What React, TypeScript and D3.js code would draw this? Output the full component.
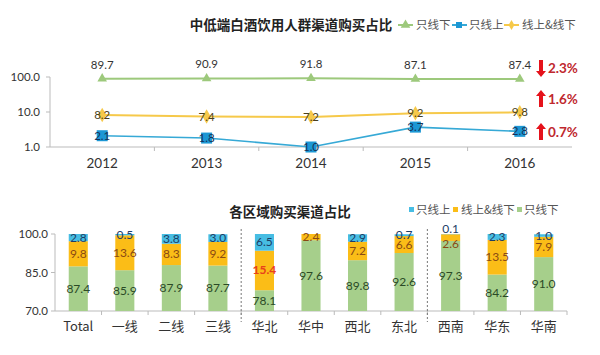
import React from "react";
import * as d3 from "d3";

const years = ["2012", "2013", "2014", "2015", "2016"];
const offlineOnly = [89.7, 90.9, 91.8, 87.1, 87.4];
const onlineOnly = [2.1, 1.8, 1.0, 3.7, 2.8];
const both = [8.2, 7.4, 7.2, 9.2, 9.8];
const topTicks = [1, 10, 100];
const changes = [
  { label: "2.3%", dir: "down", ref: 87.4 },
  { label: "1.6%", dir: "up", ref: 9.8 },
  { label: "0.7%", dir: "up", ref: 2.8 },
];

const regions = ["Total", "一线", "二线", "三线", "华北", "华中", "西北", "东北", "西南", "华东", "华南"];
const regOffline = [87.4, 85.9, 87.9, 87.7, 78.1, 97.6, 89.8, 92.6, 97.3, 84.2, 91.0];
const regBoth = [9.8, 13.6, 8.3, 9.2, 15.4, 2.4, 7.2, 6.6, 2.6, 13.5, 7.9];
const regOnline = [2.8, 0.5, 3.8, 3.0, 6.5, 0, 2.9, 0.7, 0.1, 2.3, 1.0];
const bottomTicks = [70, 85, 100];
const separatorsAfter = ["三线", "东北"];
const highlight = "华北";

const FONT = "'Noto Sans CJK SC', 'Noto Sans', sans-serif";
const NUM = "Lato, 'Noto Sans', sans-serif";
const C_GREEN = "#9dc97c";
const C_BLUE = "#36a9d6";
const C_YELLOW = "#f6c94a";
const B_GREEN = "#a6cf8b";
const B_YELLOW = "#fbbd17";
const B_BLUE = "#47bde3";

export default function App() {
  // top chart
  const x1 = d3.scaleBand().domain(years).range([50, 572]);
  const y1 = d3.scaleLog().domain([1, 100]).range([147, 77]);
  const line = d3
    .line<number>()
    .x((_, i) => x1(years[i])! + x1.bandwidth() / 2)
    .y((d) => y1(d));
  const cx = (i: number) => x1(years[i])! + x1.bandwidth() / 2;
  const tri = d3.symbol().type(d3.symbolTriangle).size(40)()!;
  const dia = d3.symbol().type(d3.symbolDiamond).size(60)()!;

  // bottom chart
  const x2 = d3.scaleBand().domain(regions).range([55, 567]).paddingInner(0.59).paddingOuter(0.295);
  const xb = d3.scaleBand().domain(regions).range([55, 567]);
  const y2 = d3.scaleLinear().domain([70, 100]).range([311, 234]);

  const arrowY = [68, 99, 132];

  return (
    <svg width={600} height={355} style={{ position: "fixed", left: 0, top: 0, background: "#fff" }} fontFamily={FONT}>
      <rect width={600} height={355} fill="#fff" />
      {/* ---------- top chart ---------- */}
      <text x={291} y={30} textAnchor="middle" fontSize={13.5} fontWeight="bold" fill="#222">
        中低端白酒饮用人群渠道购买占比
      </text>
      {/* legend */}
      <g fontSize={11.5} fill="#555">
        <line x1={398} x2={413} y1={25} y2={25} stroke={C_GREEN} strokeWidth={2} />
        <path d={tri} transform="translate(405.5,25)" fill={C_GREEN} />
        <text x={416} y={29}>只线下</text>
        <line x1={452} x2={467} y1={25} y2={25} stroke={C_BLUE} strokeWidth={2} />
        <rect x={456} y={22} width={6} height={6} fill="#1c97d4" />
        <text x={469} y={29}>只线上</text>
        <line x1={504} x2={519} y1={25} y2={25} stroke={C_YELLOW} strokeWidth={2} />
        <path d={dia} transform="translate(511.5,25) scale(0.7)" fill={C_YELLOW} />
        <text x={522} y={29}>线上&amp;线下</text>
      </g>
      {/* axes */}
      <line x1={50} x2={50} y1={77} y2={147} stroke="#bbb" />
      {topTicks.map((t) => (
        <g key={t}>
          <line x1={46} x2={50} y1={y1(t)} y2={y1(t)} stroke="#bbb" />
          <text x={40} y={y1(t) + 4} textAnchor="end" fontSize={11.5} fontFamily={NUM} fill="#333">
            {t.toFixed(1)}
          </text>
        </g>
      ))}
      <line x1={50} x2={572} y1={147} y2={147} stroke="#bbb" />
      {years.map((yr, i) => (
        <g key={yr}>
          {i > 0 && <line x1={x1(yr)} x2={x1(yr)} y1={147} y2={151} stroke="#bbb" />}
          <text x={cx(i)} y={168} textAnchor="middle" fontSize={13.5} fontFamily={NUM} fill="#333">
            {yr}
          </text>
        </g>
      ))}
      {/* lines */}
      <path d={line(offlineOnly)!} fill="none" stroke={C_GREEN} strokeWidth={2} />
      <path d={line(both)!} fill="none" stroke={C_YELLOW} strokeWidth={2} />
      <path d={line(onlineOnly)!} fill="none" stroke={C_BLUE} strokeWidth={1.6} />
      {offlineOnly.map((v, i) => (
        <g key={"g" + i}>
          <path d={tri} transform={`translate(${cx(i)},${y1(v)})`} fill={C_GREEN} />
          <text x={cx(i)} y={y1(v) - 10} textAnchor="middle" fontSize={11.5} fontFamily={NUM} fill="#333">
            {v.toFixed(1)}
          </text>
        </g>
      ))}
      {both.map((v, i) => (
        <g key={"y" + i}>
          <path d={dia} transform={`translate(${cx(i)},${y1(v)})`} fill={C_YELLOW} />
          <text x={cx(i)} y={y1(v) + 4} textAnchor="middle" fontSize={11.5} fontFamily={NUM} fill="#4a3f1c">
            {v.toFixed(1)}
          </text>
        </g>
      ))}
      {onlineOnly.map((v, i) => (
        <g key={"b" + i}>
          <rect x={cx(i) - 5.5} y={y1(v) - 5.5} width={11} height={11} fill="#1c97d4" />
          <text x={cx(i)} y={y1(v) + 4} textAnchor="middle" fontSize={11.5} fontFamily={NUM} fill="#14335a">
            {v.toFixed(1)}
          </text>
        </g>
      ))}
      {/* change annotations */}
      {changes.map((c, i) => {
        const ax = 541;
        const ay = arrowY[i];
        const up = c.dir === "up";
        const p = up
          ? `M${ax},${ay - 9} L${ax + 5},${ay - 3} L${ax + 2},${ay - 3} L${ax + 2},${ay + 8} L${ax - 2},${ay + 8} L${ax - 2},${ay - 3} L${ax - 5},${ay - 3} Z`
          : `M${ax},${ay + 9} L${ax + 5},${ay + 3} L${ax + 2},${ay + 3} L${ax + 2},${ay - 8} L${ax - 2},${ay - 8} L${ax - 2},${ay + 3} L${ax - 5},${ay + 3} Z`;
        return (
          <g key={c.label}>
            <path d={p} fill="#e5121b" />
            <text x={548} y={ay + 5} fontSize={13.5} fontWeight="bold" fontFamily={NUM} fill="#c0282e">
              {c.label}
            </text>
          </g>
        );
      })}

      {/* ---------- bottom chart ---------- */}
      <text x={290} y={217} textAnchor="middle" fontSize={13.5} fontWeight="bold" fill="#222">
        各区域购买渠道占比
      </text>
      <g fontSize={11.5} fill="#555">
        <rect x={409} y={207} width={5} height={5} fill={B_BLUE} />
        <text x={416} y={214}>只线上</text>
        <rect x={453} y={207} width={5} height={5} fill={B_YELLOW} />
        <text x={461} y={214}>线上&amp;线下</text>
        <rect x={517} y={207} width={5} height={5} fill={B_GREEN} />
        <text x={524} y={214}>只线下</text>
      </g>
      <line x1={55} x2={55} y1={234} y2={311} stroke="#bbb" />
      {bottomTicks.map((t) => (
        <g key={t}>
          <line x1={51} x2={55} y1={y2(t)} y2={y2(t)} stroke="#bbb" />
          <text x={48} y={y2(t) + 4} textAnchor="end" fontSize={11.5} fontFamily={NUM} fill="#333">
            {t.toFixed(1)}
          </text>
        </g>
      ))}
      <line x1={55} x2={567} y1={311} y2={311} stroke="#bbb" />
      {regions.map((r, i) => {
        const bx = x2(r)!;
        const bw = x2.bandwidth();
        const mid = bx + bw / 2;
        const g = regOffline[i];
        const yv = regBoth[i];
        const bl = regOnline[i];
        const gTop = y2(g);
        const yTop = y2(g + yv);
        const bTop = y2(Math.min(100, g + yv + bl));
        const smallPair = gTop - yTop < 8 && yTop - bTop < 8 && bl > 0;
        return (
          <g key={r}>
            <line x1={xb(r)! + xb.bandwidth()} x2={xb(r)! + xb.bandwidth()} y1={311} y2={315} stroke="#bbb" />
            <rect x={bx} y={gTop} width={bw} height={y2(70) - gTop} fill={B_GREEN} />
            <rect x={bx} y={yTop} width={bw} height={gTop - yTop} fill={B_YELLOW} />
            {bl > 0 && <rect x={bx} y={bTop} width={bw} height={yTop - bTop} fill={B_BLUE} />}
            <g fontFamily={NUM} fontSize={12}>
              <text x={mid} y={(gTop + y2(70)) / 2 + 4} textAnchor="middle" fill="#2b4a26">
                {g.toFixed(1)}
              </text>
              <text
                x={mid}
                y={(gTop + yTop) / 2 + 4 + (smallPair ? 6 : 0)}
                textAnchor="middle"
                fill={r === highlight ? "#e8401c" : "#8a4a14"}
                fontWeight={r === highlight ? "bold" : "normal"}
              >
                {yv.toFixed(1)}
              </text>
              {bl > 0 && (
                <text
                  x={mid}
                  y={(yTop + bTop) / 2 + 4 - (smallPair ? 5 : 0)}
                  textAnchor="middle"
                  fill="#1d3d66"
                >
                  {bl.toFixed(1)}
                </text>
              )}
            </g>
            <text x={mid} y={331} textAnchor="middle" fontSize={13} fill="#333">
              {r}
            </text>
          </g>
        );
      })}
      {separatorsAfter.map((s) => {
        const sx = xb(s)! + xb.bandwidth();
        return <line key={s} x1={sx} x2={sx} y1={229} y2={322} stroke="#777" strokeDasharray="2,2" />;
      })}
    </svg>
  );
}
